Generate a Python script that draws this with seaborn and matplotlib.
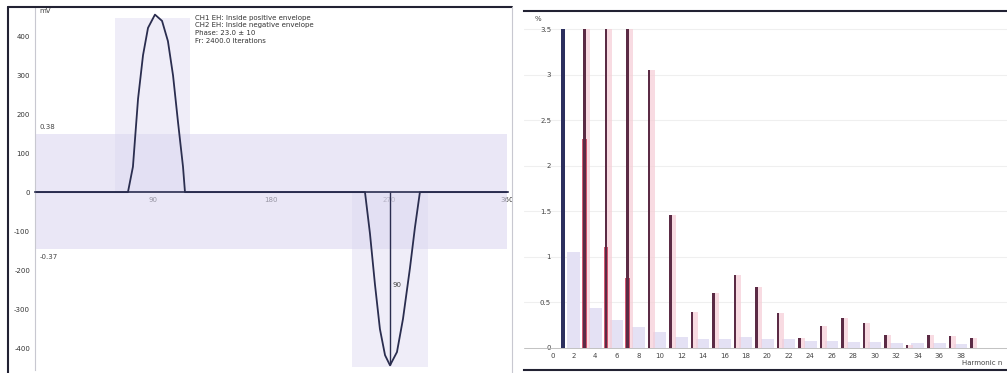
import numpy as np
import matplotlib.pyplot as plt
from matplotlib.lines import Line2D
import seaborn as sns

# Left panel: pulse trace (phase in degrees, amplitude in mV)
trace_phase = [0, 70.9, 74.7, 78.6, 82.4, 86.2, 91.5, 96.9, 101.4, 105.3, 109.1, 112.9, 114.4,
               251.7, 255.5, 259.3, 263.1, 267.0, 270.8, 276.1, 280.7, 286.0, 289.8, 293.6, 360]
trace_amp = [0, 0, 65, 239, 351, 421, 455, 439, 387, 299, 179, 65, 0,
             0, -106, -236, -351, -418, -444, -410, -325, -195, -91, 0, 0]

# envelope band and the two pulse windows
env_phase = [0, 360]
env_upper = [150, 150]
env_lower = [-145, -145]
pos_window_phase = [61, 118]
pos_window_top = [447, 447]
neg_window_phase = [242, 300]
neg_window_bottom = [-449, -449]
marker_phase = 270.8
marker_amp = -444

phase_ticks = [90, 180, 270, 360]
amp_ticks = [-400, -300, -200, -100, 0, 100, 200, 300, 400]
info_lines = ["CH1 EH: Inside positive envelope",
              "CH2 EH: Inside negative envelope",
              "Phase: 23.0 \u00b1 10",
              "Fr: 2400.0 Iterations"]

# Right panel: harmonic spectrum
fund_harm = [1]
fund_value = [3.5]
odd_harm = [3, 5, 7, 9, 11, 13, 15, 17, 19, 21, 23, 25, 27, 29, 31, 33, 35, 37, 39]
odd_values = [3.5, 3.5, 3.5, 3.05, 1.46, 0.40, 0.60, 0.80, 0.67, 0.38, 0.11, 0.24,
              0.33, 0.27, 0.14, 0.03, 0.14, 0.13, 0.11]
red_harm = [3, 5, 7]
red_values = [2.29, 1.11, 0.77]
even_harm = [2, 4, 6, 8, 10, 12, 14, 16, 18, 20, 22, 24, 26, 28, 30, 32, 34, 36, 38]
even_values = [1.05, 0.44, 0.31, 0.23, 0.18, 0.12, 0.10, 0.10, 0.12, 0.10, 0.10,
               0.08, 0.08, 0.06, 0.06, 0.05, 0.05, 0.05, 0.04]
harm_ticks = list(range(0, 40, 2))
level_ticks = [0, 0.5, 1, 1.5, 2, 2.5, 3, 3.5]
level_labels = ["0", "0.5", "1", "1.5", "2", "2.5", "3", "3.5"]

sns.set_theme(style="white")
plt.rcParams['font.family'] = ['DejaVu Sans']
plt.rcParams['axes.unicode_minus'] = False

fig = plt.figure(figsize=(10.07, 3.73), dpi=100)
W, H = 1007, 373

# ---- left panel ----
ax1 = fig.add_axes([35 / W, 1 - 370 / H, (508 - 35) / W, (370 - 8) / H])
ax1.fill_between(env_phase, env_lower, env_upper, color='#dcd8f0', alpha=0.6, lw=0)
ax1.fill_between(pos_window_phase, [0, 0], pos_window_top, color='#dcd8f0', alpha=0.45, lw=0)
ax1.fill_between(neg_window_phase, neg_window_bottom, [0, 0], color='#dcd8f0', alpha=0.45, lw=0)
sns.lineplot(x=trace_phase, y=trace_amp, ax=ax1, color='#2a2d4f', lw=1.3, estimator=None)
ax1.vlines(marker_phase, marker_amp, 0, color='#2a2d4f', lw=1.0)

ax1.set_xlim(0, 360.8)
ax1.set_ylim(-456, 472)
ax1.spines['bottom'].set_position(('data', 0))
ax1.spines['bottom'].set_color('#2a2d4f')
ax1.spines['bottom'].set_linewidth(1.2)
ax1.spines['left'].set_color('#c8c8d0')
ax1.spines['left'].set_linewidth(0.8)
ax1.spines['top'].set_visible(False)
ax1.spines['right'].set_visible(False)
ax1.set_xticks(phase_ticks)
ax1.set_xticklabels([str(t) for t in phase_ticks])
ax1.set_yticks(amp_ticks)
ax1.tick_params(axis='both', labelsize=5, length=2, color='#999999', labelcolor='#333333', pad=1.5)
ax1.text(3, 472, "mV", fontsize=5, color='#444444', va='top')
ax1.text(122, 455, "\n".join(info_lines), fontsize=5, color='#333333', va='top', linespacing=1.35)
ax1.text(3.8, 158, "0.38", fontsize=5, color='#444444', va='bottom')
ax1.text(3.8, -158, "-0.37", fontsize=5, color='#444444', va='top')
ax1.text(273, -238, "90", fontsize=5, color='#444444', va='center')

# panel borders
fig.add_artist(Line2D([8 / W, 8 / W], [0, 1 - 7 / H], transform=fig.transFigure, color='#222233', lw=1.5))
fig.add_artist(Line2D([8 / W, 512 / W], [1 - 7 / H, 1 - 7 / H], transform=fig.transFigure, color='#222233', lw=1.5))
fig.add_artist(Line2D([512 / W, 512 / W], [0, 1 - 7 / H], transform=fig.transFigure, color='#c8c8d0', lw=0.8))

# ---- right panel ----
ax2 = fig.add_axes([524 / W, 1 - 370 / H, (1007 - 524) / W, (370 - 11) / H])
ax2.set_axisbelow(True)
ax2.yaxis.grid(True, color='#efefef', lw=0.8)
sns.barplot(x=even_harm, y=even_values, ax=ax2, native_scale=True, width=0.6,
            color='#e4e1f4', saturation=1, errorbar=None, linewidth=0)
sns.barplot(x=np.array(odd_harm) + 0.3, y=odd_values, ax=ax2, native_scale=True, width=0.22,
            color='#f6cdd6', saturation=1, errorbar=None, linewidth=0, alpha=0.7)
sns.barplot(x=red_harm, y=red_values, ax=ax2, native_scale=True, width=0.2,
            color='#c8304f', saturation=1, errorbar=None, linewidth=0, alpha=0.8)
sns.barplot(x=odd_harm, y=odd_values, ax=ax2, native_scale=True, width=0.12,
            color='#5b2b45', saturation=1, errorbar=None, linewidth=0)
sns.barplot(x=fund_harm, y=fund_value, ax=ax2, native_scale=True, width=0.4,
            color='#2c2f5e', saturation=1, errorbar=None, linewidth=0)

ax2.set_xlim(-2.63, 42.3)
ax2.set_ylim(-0.242, 3.70)
ax2.set_xticks(harm_ticks)
ax2.set_xticklabels([str(t) for t in harm_ticks])
ax2.set_yticks(level_ticks)
ax2.set_yticklabels(level_labels)
ax2.set_xlabel("")
ax2.set_ylabel("")
ax2.tick_params(axis='x', labelsize=5, length=0, pad=-12, labelcolor='#444444')
ax2.tick_params(axis='y', labelsize=5, length=0, pad=-19.5, labelcolor='#444444')
for side in ['left', 'right']:
    ax2.spines[side].set_visible(False)
for side in ['top', 'bottom']:
    ax2.spines[side].set_color('#222233')
    ax2.spines[side].set_linewidth(1.5)
ax2.axhline(0, color='#bbbbbb', lw=0.6)
ax2.text(0.022, 0.985, "%", transform=ax2.transAxes, fontsize=5, color='#444444', va='top')
ax2.text(0.99, 0.012, "Harmonic n", transform=ax2.transAxes, fontsize=5, color='#444444',
         ha='right', va='bottom')

fig.savefig("out.png", dpi=100)
